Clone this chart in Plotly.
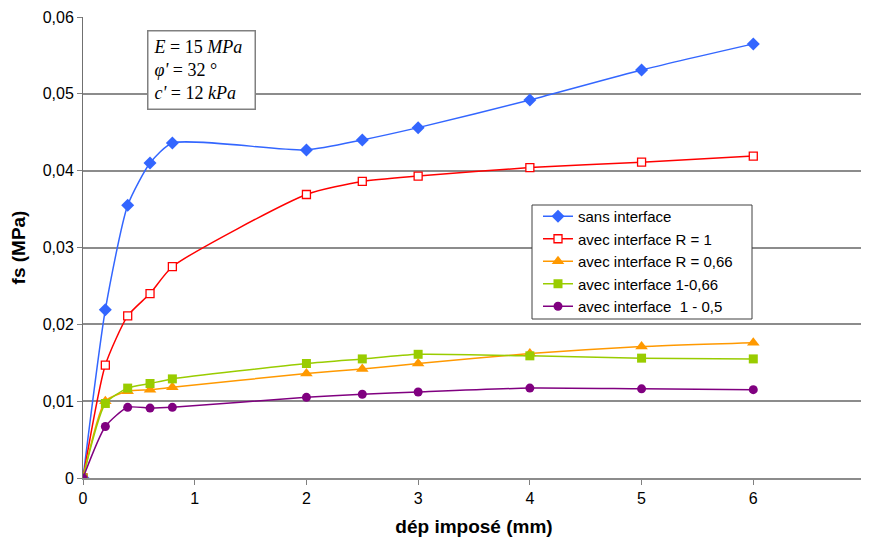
import plotly.graph_objects as go

x_mm = [0, 0.2, 0.4, 0.6, 0.8, 2, 2.5, 3, 4, 5, 6]

sans_interface = [0, 0.0219, 0.0355, 0.0410, 0.0436, 0.0427, 0.0440, 0.0456, 0.0492, 0.0531, 0.0565]
interface_R1 = [0, 0.0147, 0.0211, 0.0240, 0.0275, 0.0369, 0.0386, 0.0393, 0.0404, 0.0411, 0.0419]
interface_R066 = [0, 0.0100, 0.0113, 0.0115, 0.0118, 0.0136, 0.0142, 0.0149, 0.0162, 0.0171, 0.0176]
interface_1_066 = [0, 0.0097, 0.0117, 0.0123, 0.0129, 0.0149, 0.0155, 0.0161, 0.0159, 0.0156, 0.0155]
interface_1_05 = [0, 0.0067, 0.0092, 0.0091, 0.0092, 0.0105, 0.0109, 0.0112, 0.0117, 0.0116, 0.0115]

series_names = [
    "sans interface",
    "avec interface R = 1",
    "avec interface R = 0,66",
    "avec interface 1-0,66",
    "avec interface  1 - 0,5",
]

y_tick_vals = [0, 0.01, 0.02, 0.03, 0.04, 0.05, 0.06]
y_tick_text = ["0", "0,01", "0,02", "0,03", "0,04", "0,05", "0,06"]
x_tick_vals = [0, 1, 2, 3, 4, 5, 6, 7]
x_tick_text = ["0", "1", "2", "3", "4", "5", "6", "7"]

series_colors = ["#3366FF", "#FF0000", "#FF9900", "#99CC00", "#800080"]
markers = [
    dict(symbol="diamond", size=10, color="#3366FF"),
    dict(symbol="square", size=8, color="white", line=dict(width=1.3, color="#FF0000")),
    dict(symbol="triangle-up", size=11, color="#FF9900"),
    dict(symbol="square", size=9, color="#99CC00"),
    dict(symbol="circle", size=9, color="#800080"),
]

all_series = [sans_interface, interface_R1, interface_R066, interface_1_066, interface_1_05]

fig = go.Figure()
for name, ys, col, mk in zip(series_names, all_series, series_colors, markers):
    fig.add_trace(go.Scatter(
        x=x_mm, y=ys, name=name, mode="lines+markers",
        line=dict(color=col, width=1.5, shape="spline", smoothing=0.6),
        marker=mk,
    ))

# page body has an 8px margin: figure is drawn at (8, 8)
PW, PH = 782, 461  # plot area size
fig.update_layout(
    width=861, height=529,
    margin=dict(l=75, r=4, t=9, b=59),
    paper_bgcolor="white", plot_bgcolor="white",
    font=dict(family="Liberation Sans, Arial, sans-serif", size=15, color="black"),
    showlegend=True,
    legend=dict(
        x=(538 - 83) / PW, y=(478 - 200) / PH, xanchor="left", yanchor="top",
        bgcolor="rgba(0,0,0,0)", borderwidth=0,
        font=dict(size=15, family="Liberation Sans, Arial, sans-serif"),
        tracegroupgap=0, itemwidth=30,
    ),
    xaxis=dict(
        range=[0, 7], tickvals=x_tick_vals, ticktext=x_tick_text,
        showgrid=False, zeroline=False, automargin=False,
        showline=True, linecolor="#8C8C8C", linewidth=2,
        ticks="outside", ticklen=5, tickcolor="#808080",
        tickfont=dict(size=16),
        title=dict(text="<b>dép imposé (mm)</b>", font=dict(size=19), standoff=13),
    ),
    yaxis=dict(
        range=[0, 0.06], tickvals=y_tick_vals, ticktext=y_tick_text,
        showgrid=True, gridcolor="#8C8C8C", gridwidth=2,
        zeroline=False, automargin=False,
        showline=True, linecolor="#707070", linewidth=1,
        ticks="outside", ticklen=5, tickcolor="#808080",
        tickfont=dict(size=16),
        title=dict(text="<b>fs (MPa)</b>", font=dict(size=19), standoff=13),
    ),
    shapes=[dict(
        type="rect", xref="paper", yref="paper", layer="above",
        x0=(532 - 83) / PW, x1=(752 - 83) / PW,
        y0=(478 - 319) / PH, y1=(478 - 205) / PH,
        fillcolor="white", line=dict(color="#404040", width=1),
    )],
)

fig.add_annotation(
    xref="paper", yref="paper",
    x=(147 - 83) / PW, y=(478 - 30) / PH, xanchor="left", yanchor="top",
    text="<i>E</i> = 15 <i>MPa</i><br><i>φ'</i> = 32 °<br><i>c'</i> = 12 <i>kPa</i>",
    align="left", showarrow=False,
    font=dict(family="Liberation Serif, Times New Roman, serif", size=18, color="black"),
    bgcolor="white", bordercolor="#808080", borderwidth=1.5, borderpad=5,
    width=96,
)

fig.write_html("out.html")
